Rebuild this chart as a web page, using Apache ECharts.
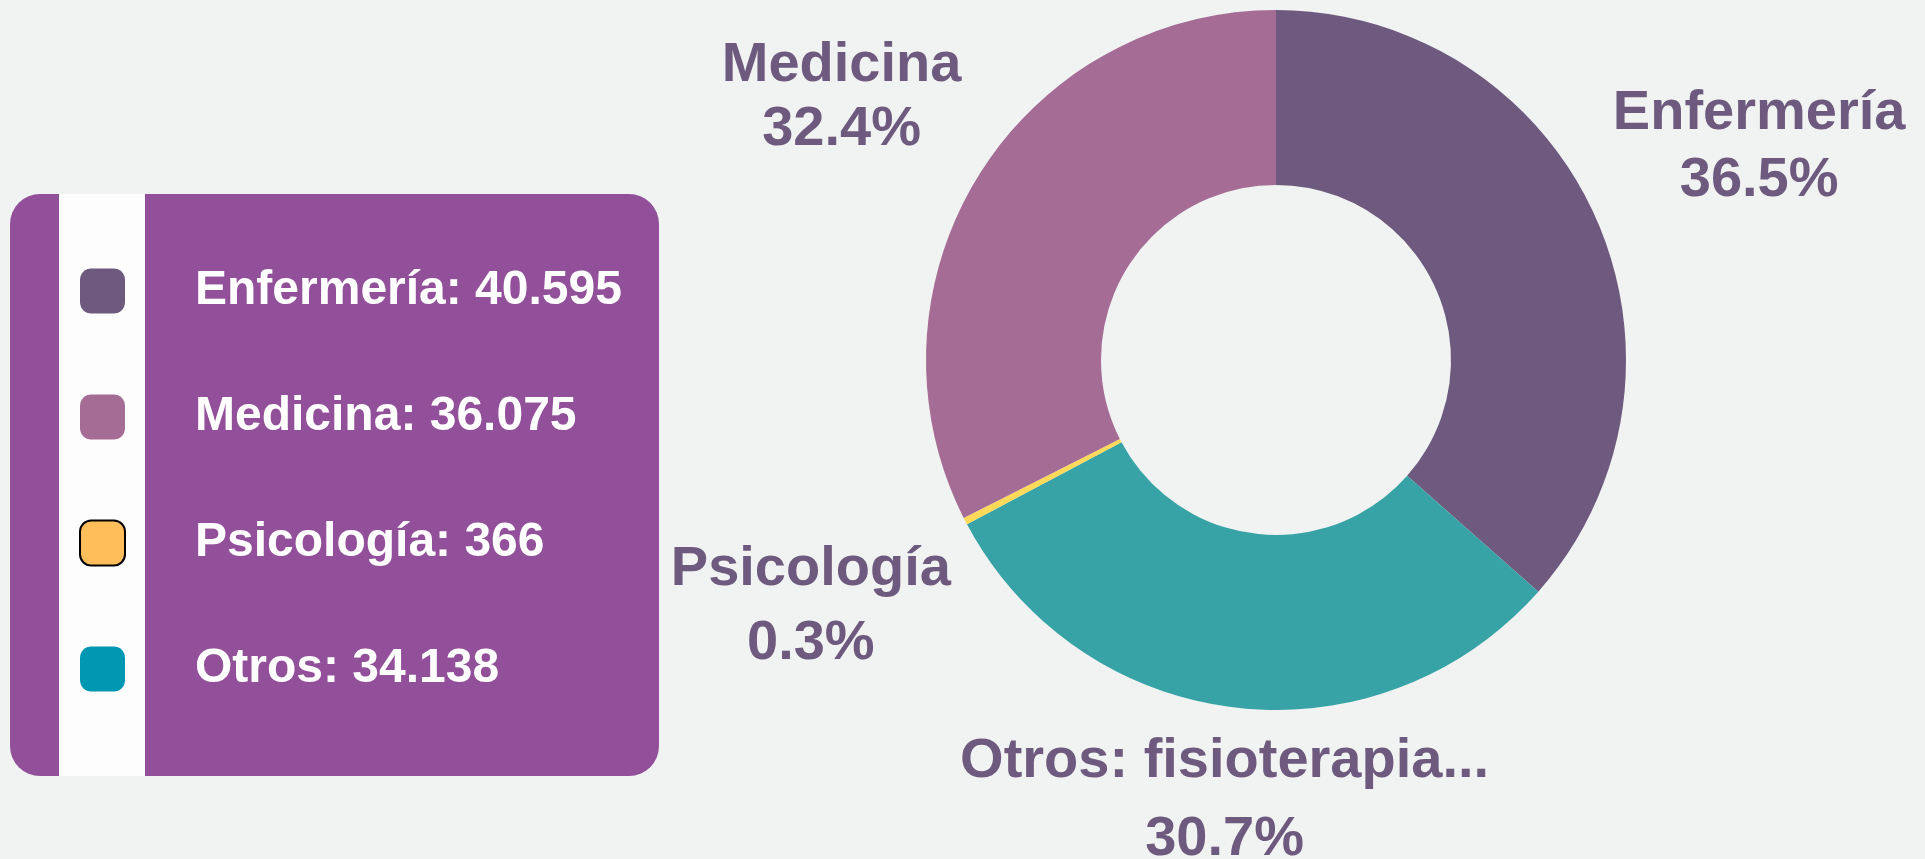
<!DOCTYPE html>
<html>
<head>
<meta charset="utf-8">
<script src="https://cdn.jsdelivr.net/npm/echarts@6/dist/echarts.min.js"></script>
<style>
  html, body { margin: 0; padding: 0; background: #f1f3f2; }
  #chart { width: 1925px; height: 859px; }
</style>
</head>
<body>
<div id="chart"></div>
<script>
// data, legend order
const categories = ['Enfermería', 'Medicina', 'Psicología', 'Otros'];
const values = [40595, 36075, 366, 34138];
const sliceLabels = ['Enfermería', 'Medicina', 'Psicología', 'Otros: fisioterapia...'];
// order of the slices round the ring, clockwise from the top
const ringOrder = [0, 3, 2, 1];

const sliceColors = ['#6e5a7e', '#a56c96', '#ffd95a', '#38a3a6'];
const legendColors = ['#6e5a7e', '#a56c96', '#ffbe5a', '#0097b2'];
// how far each label sits outside the ring, and its line spacing
const labelReach = [180, 160, 174, 89];
const labelLeading = [67, 64, 74, 78];

const total = values.reduce((a, b) => a + b, 0);
const fmtThousands = (v) => String(v).replace(/\B(?=(\d{3})+(?!\d))/g, '.');

const chart = echarts.init(document.getElementById('chart'));

const option = {
  backgroundColor: '#f1f3f2',
  animation: false,
  graphic: [
    {
      type: 'rect',
      shape: { x: 10, y: 194, width: 649, height: 582, r: 30 },
      style: { fill: '#93509a' },
      silent: true
    },
    {
      type: 'rect',
      shape: { x: 59, y: 194, width: 86, height: 582 },
      style: { fill: '#fdfdfd' },
      silent: true
    }
  ],
  legend: {
    orient: 'vertical',
    left: 79,
    top: 267,
    padding: 0,
    itemWidth: 45,
    itemHeight: 45,
    itemGap: 78,
    icon: 'roundRect',
    selectedMode: false,
    data: categories.map((name, i) => ({
      name,
      itemStyle: i === 2
        ? { color: legendColors[i], borderColor: '#000', borderWidth: 2 }
        : { color: legendColors[i], borderWidth: 0 }
    })),
    formatter: (name) => name + ': ' + fmtThousands(values[categories.indexOf(name)]),
    textStyle: {
      color: '#ffffff',
      fontFamily: 'Liberation Sans',
      fontWeight: 'bold',
      fontSize: 48,
      lineHeight: 45,
      padding: [0, 0, 0, 65]
    }
  },
  series: [
    {
      type: 'pie',
      center: [1276, 360],
      radius: [175, 350],
      startAngle: 90,
      clockwise: true,
      avoidLabelOverlap: false,
      silent: true,
      itemStyle: { borderWidth: 0 },
      label: {
        show: true,
        position: 'outside',
        distanceToLabelLine: 0,
        color: '#6e5a7e',
        fontFamily: 'Liberation Sans',
        fontWeight: 'bold',
        fontSize: 56,
        lineHeight: 68,
        align: 'center',
        formatter: (p) => sliceLabels[p.data.idx] + '\n' + (p.value / total * 100).toFixed(1) + '%'
      },
      labelLine: { show: false, length2: 0 },
      labelLayout: (p) => {
        const r = p.labelRect;
        return {
          x: p.align === 'left' ? r.x : r.x + r.width,
          y: r.y + r.height / 2 + 5,
          align: 'center',
          verticalAlign: 'middle'
        };
      },
      data: ringOrder.map((i) => ({
        idx: i,
        name: categories[i],
        value: values[i],
        itemStyle: { color: sliceColors[i] },
        label: { lineHeight: labelLeading[i] },
        labelLine: { length: labelReach[i], length2: 0 }
      }))
    }
  ]
};

chart.setOption(option);
</script>
</body>
</html>
